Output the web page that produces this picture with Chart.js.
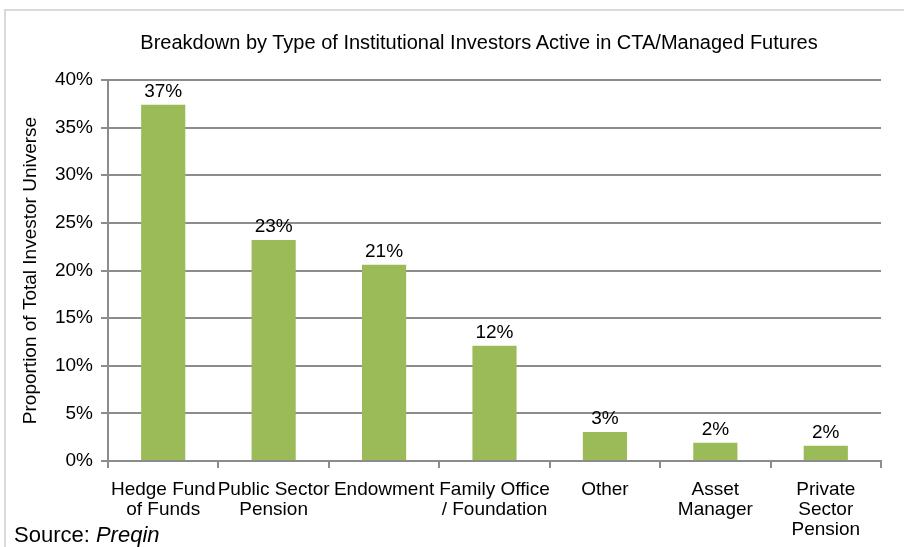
<!DOCTYPE html>
<html lang="en">
<head>
  <meta charset="UTF-8" />
  <title>Institutional Investors in CTA/Managed Futures</title>
  <script src="https://cdn.jsdelivr.net/npm/chart.js"></script>
  <style>
    body {
      margin: 0;
      background: #fff;
    }

    .wrap {
      position: relative;
      width: 904px;
      height: 547px;
      overflow: hidden;
    }

    .frame {
      position: absolute;
      left: 4px;
      top: 9px;
      width: 1000px;
      height: 1000px;
      border-left: 2px solid #d9d9d9;
      border-top: 2px solid #d9d9d9;
    }

    #chart {
      position: absolute;
      left: 0;
      top: 0;
    }

    .title {
      position: absolute;
      left: 0;
      top: 30px;
      width: 958px;
      text-align: center;
      font-family: 'Liberation Sans', Arial, sans-serif;
      font-size: 20px;
      line-height: 24px;
      color: #000;
      white-space: nowrap;
    }

    .source {
      position: absolute;
      left: 14px;
      top: 522px;
      font-family: 'Liberation Sans', Arial, sans-serif;
      font-size: 22px;
      color: #000;
    }
  </style>
</head>
<body>
  <div class="wrap">
    <div class="frame"></div>
    <canvas id="chart" width="904" height="547"></canvas>
    <div class="title">Breakdown by Type of Institutional Investors Active in CTA/Managed Futures</div>
    <div class="source">Source: <i>Preqin</i></div>
  </div>

  <script>
    const categories = [
      ["Hedge Fund", "of Funds"],
      ["Public Sector", "Pension"],
      ["Endowment"],
      ["Family Office", "/ Foundation"],
      ["Other"],
      ["Asset", "Manager"],
      ["Private", "Sector", "Pension"]
    ];
    const shares = [37.4, 23.2, 20.6, 12.1, 3.05, 1.92, 1.6];
    const yTicks = [0, 5, 10, 15, 20, 25, 30, 35, 40];

    const font = "'Liberation Sans', Arial, sans-serif";

    // labels on top of the bars
    const barLabels = {
      id: "barLabels",
      afterDatasetsDraw(chart) {
        const ctx = chart.ctx;
        const meta = chart.getDatasetMeta(0);
        ctx.save();
        ctx.font = "19px " + font;
        ctx.fillStyle = "#000";
        ctx.textAlign = "center";
        ctx.textBaseline = "alphabetic";
        meta.data.forEach((bar, i) => {
          ctx.fillText(Math.round(shares[i]) + "%", bar.x, bar.y - 8);
        });
        ctx.restore();
      }
    };

    new Chart(document.getElementById("chart"), {
      type: "bar",
      data: {
        labels: categories,
        datasets: [{
          data: shares,
          backgroundColor: "#9bbb59",
          categoryPercentage: 1,
          barPercentage: 0.4
        }]
      },
      options: {
        responsive: false,
        animation: false,
        layout: { padding: { left: 0, right: 23, top: 80, bottom: 0 } },
        plugins: {
          legend: { display: false },
          tooltip: { enabled: false },
          title: { display: false }
        },
        scales: {
          x: {
            afterFit(scale) { scale.height = 86; },
            grid: {
              offset: true,
              drawOnChartArea: false,
              drawTicks: true,
              tickLength: 7,
              color: "#8c8c8c",
              lineWidth: 2
            },
            border: { color: "#8c8c8c", width: 2 },
            ticks: {
              color: "#000",
              font: { family: font, size: 19, lineHeight: 1.05 },
              padding: 12,
              maxRotation: 0,
              autoSkip: false
            }
          },
          y: {
            min: 0,
            max: 40,
            afterFit(scale) { scale.width = 108; },
            afterBuildTicks(scale) {
              scale.ticks = yTicks.map(v => ({ value: v }));
            },
            grid: {
              color: "#8c8c8c",
              lineWidth: 2,
              tickLength: 7
            },
            border: { color: "#8c8c8c", width: 2 },
            ticks: {
              color: "#000",
              font: { family: font, size: 19 },
              padding: 8,
              callback: v => v + "%"
            },
            title: {
              display: true,
              text: "Proportion of Total Investor Universe",
              color: "#000",
              font: { family: font, size: 19 },
              padding: { top: 19, bottom: 0 }
            }
          }
        }
      },
      plugins: [barLabels]
    });
  </script>
</body>
</html>
